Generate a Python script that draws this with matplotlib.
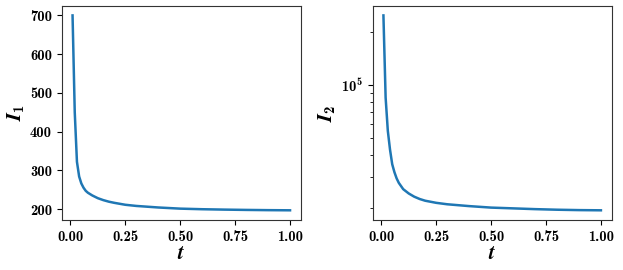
import matplotlib
matplotlib.use("Agg")
import matplotlib.pyplot as plt
from matplotlib.ticker import NullFormatter

plt.rcParams['font.family'] = 'cmb10'
plt.rcParams['mathtext.fontset'] = 'custom'
plt.rcParams['mathtext.rm'] = 'cmb10'
plt.rcParams['mathtext.bf'] = 'cmb10'
plt.rcParams['mathtext.it'] = 'STIXGeneral:italic:bold'
plt.rcParams['axes.unicode_minus'] = False

# values
t = [0.01, 0.02, 0.03, 0.04, 0.05, 0.06, 0.07, 0.08, 0.1, 0.125, 0.15,
     0.175, 0.2, 0.25, 0.3, 0.4, 0.5, 0.6, 0.7, 0.8, 0.9, 1.0]
I1 = [700, 450, 322, 284, 266, 255, 247, 242, 235, 228, 223,
      219, 216, 211, 208, 204, 201, 199.5, 198.5, 197.7, 197.1, 196.7]
I2 = [2.5e5, 8.5e4, 5.5e4, 4.3e4, 3.55e4, 3.2e4, 2.95e4, 2.78e4, 2.56e4, 2.42e4, 2.32e4,
      2.25e4, 2.2e4, 2.14e4, 2.1e4, 2.05e4, 2.01e4, 1.99e4, 1.97e4, 1.955e4, 1.945e4, 1.94e4]
xticks = [0.0, 0.25, 0.5, 0.75, 1.0]

fig = plt.figure(figsize=(6.23, 2.7), dpi=100)
ax1 = fig.add_axes([0.099, 0.185, 0.384, 0.794])
ax2 = fig.add_axes([0.598, 0.185, 0.384, 0.794])

ax1.plot(t, I1, color='#1f77b4', lw=1.8)
ax1.set_ylabel(r'$I_1$', fontsize=15, labelpad=3)

ax2.plot(t, I2, color='#1f77b4', lw=1.8)
ax2.set_yscale('log')
ax2.yaxis.set_minor_formatter(NullFormatter())
ax2.set_ylabel(r'$I_2$', fontsize=15, labelpad=3)

for ax in (ax1, ax2):
    ax.set_xticks(xticks)
    ax.set_xticklabels(['%.2f' % v for v in xticks])
    ax.set_xlabel(r'$t$', fontsize=15, labelpad=0)
    ax.tick_params(labelsize=10.5)
    for s in ax.spines.values():
        s.set_color('#333333')

fig.savefig('out.png', dpi=100)
